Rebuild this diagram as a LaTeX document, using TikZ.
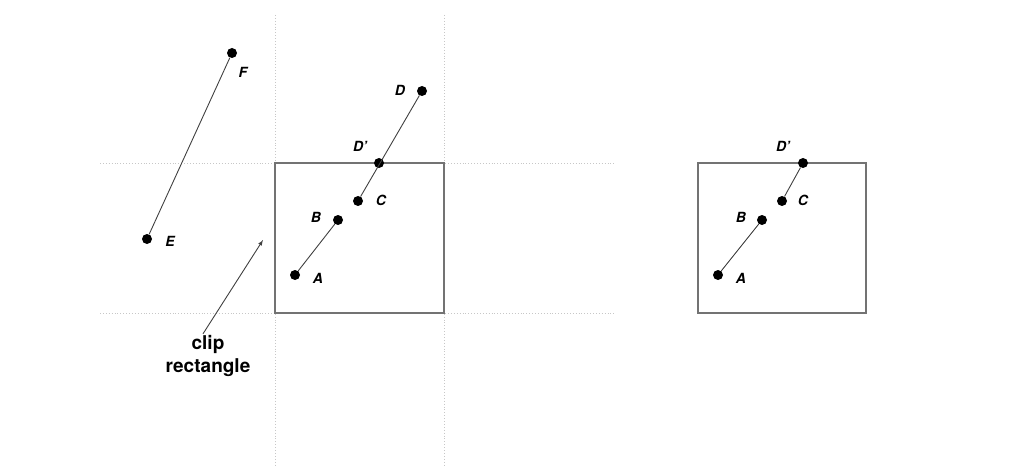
\documentclass[tikz,border=0pt]{standalone}
\usepackage{fontspec}
\setmainfont{TeX Gyre Heros}
\usetikzlibrary{calc}

\begin{document}
\begin{tikzpicture}[x=1pt,y=-1pt,
	pt/.style={circle,fill=black,inner sep=0pt,minimum size=10pt},
	lbl/.style={font=\bfseries\itshape\fontsize{14}{14}\selectfont},
	seg/.style={draw=black!75,line width=0.9pt},
	guide/.style={draw=black!22,dotted,line width=0.9pt},
	cliprect/.style={draw=black!55,line width=1.3pt}]
					\useasboundingbox (0,0) rectangle (1014,473);

					% Clip window edges, extended
					\draw[guide] (275,15) -- (275,465);
					\draw[guide] (444,15) -- (444,465);
					\draw[guide] (100,163) -- (615,163);
					\draw[guide] (100,313) -- (615,313);

					\draw[cliprect] (275,163) rectangle (444,313);
					\draw[cliprect] (698,163) rectangle (866,313);

					% Lines before clipping
					\node[pt] (F) at (232,53) {};
					\node[pt] (E) at (147,239) {};
					\node[pt] (D) at (422,91) {};
					\node[pt] (Dp) at (379,163) {};
					\node[pt] (C) at (358,201) {};
					\node[pt] (B) at (338,220) {};
					\node[pt] (A) at (295,275) {};

					\draw[seg] (E) -- (F);
					\draw[seg] (A) -- (B);
					\draw[seg] (C) -- (D);

					\node[lbl] at ($(F)+(11,19)$) {F};
					\node[lbl] at ($(E)+(23,2)$) {E};
					\node[lbl] at ($(D)+(-22,-1)$) {D};
					\node[lbl] at ($(Dp)+(-19,-17)$) {D'};
					\node[lbl] at ($(C)+(23,-1)$) {C};
					\node[lbl] at ($(B)+(-22,-3)$) {B};
					\node[lbl] at ($(A)+(23,3)$) {A};

					% Label for the window
					\node[font=\bfseries\fontsize{19}{23}\selectfont,align=center] (cliptxt) at (208,356) {clip\\rectangle};
					\coordinate (tip) at (263,240);
					\draw[seg,-latex] ($(cliptxt.north)+(-5,2)$) -- (tip);

					% Lines after clipping
					\node[pt] (Dp2) at (803,163) {};
					\node[pt] (C2) at (782,201) {};
					\node[pt] (B2) at (762,220) {};
					\node[pt] (A2) at (718,275) {};

					\draw[seg] (A2) -- (B2);
					\draw[seg] (C2) -- (Dp2);

					\node[lbl] at ($(Dp2)+(-20,-17)$) {D'};
					\node[lbl] at ($(C2)+(21,-1)$) {C};
					\node[lbl] at ($(B2)+(-21,-3)$) {B};
					\node[lbl] at ($(A2)+(23,3)$) {A};
\end{tikzpicture}
\end{document}
